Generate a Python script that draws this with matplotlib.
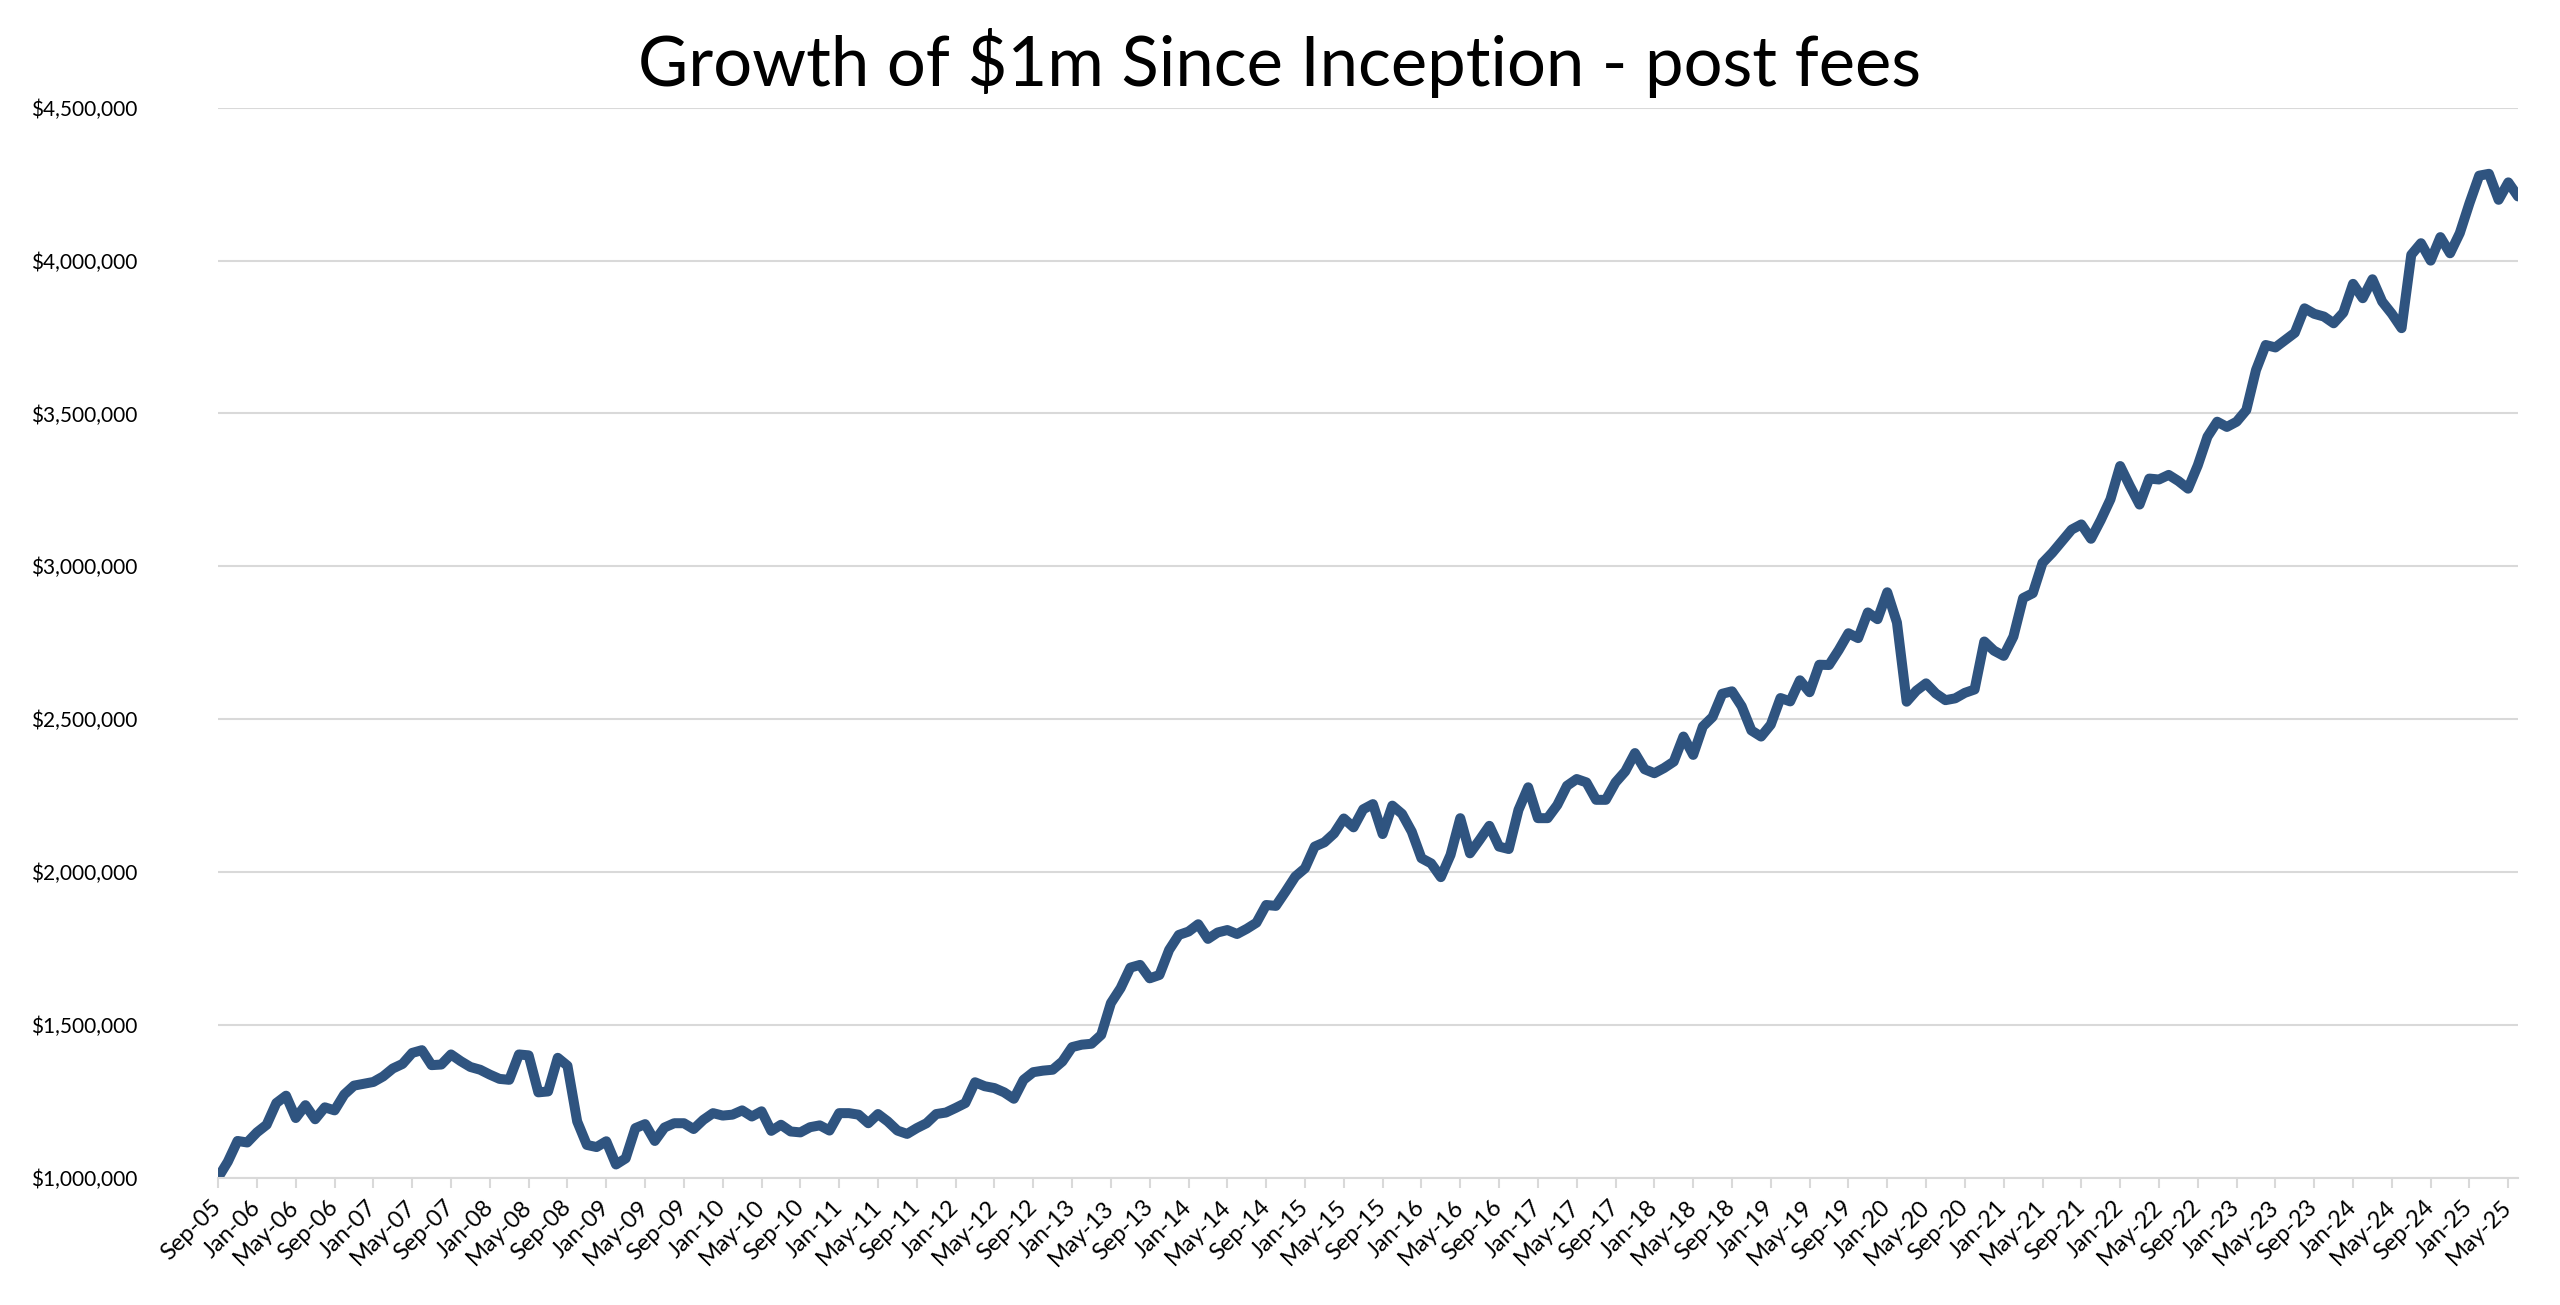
import matplotlib
matplotlib.use('Agg')
import matplotlib.pyplot as plt
import pandas as pd

plt.rcParams['font.family'] = ['Lato', 'DejaVu Sans']

# value of $1m invested, month end, in $ thousands (Sep-05 .. Jun-25)
valores = [
    1000, 1052, 1120, 1115, 1148, 1173, 1244, 1268, 1195, 1237, 1191, 1230,
    1220, 1272, 1301, 1307, 1313, 1331, 1357, 1372, 1408, 1417, 1368, 1370,
    1403, 1381, 1362, 1353, 1337, 1323, 1320, 1403, 1400, 1279, 1282, 1392,
    1366, 1184, 1107, 1100, 1119, 1043, 1063, 1162, 1175, 1120, 1164, 1178,
    1178, 1159, 1189, 1211, 1203, 1206, 1220, 1200, 1217, 1153, 1173, 1151,
    1148, 1165, 1171, 1154, 1211, 1211, 1206, 1178, 1208, 1184, 1154, 1143,
    1162, 1178, 1208, 1213, 1228, 1244, 1312, 1299, 1293, 1279, 1258, 1320,
    1345, 1350, 1353, 1380, 1427, 1435, 1438, 1467, 1571, 1620, 1687, 1696,
    1652, 1663, 1745, 1794, 1805, 1829, 1781, 1802, 1810, 1797, 1814, 1834,
    1892, 1889, 1936, 1985, 2012, 2083, 2097, 2126, 2175, 2146, 2205, 2222,
    2124, 2217, 2190, 2132, 2045, 2028, 1983, 2056, 2176, 2061, 2105, 2151,
    2083, 2075, 2203, 2277, 2176, 2176, 2219, 2282, 2304, 2293, 2236, 2236,
    2293, 2329, 2389, 2336, 2323, 2340, 2361, 2443, 2383, 2476, 2507, 2583,
    2591, 2542, 2463, 2443, 2482, 2569, 2558, 2627, 2588, 2678, 2677, 2726,
    2781, 2765, 2849, 2827, 2915, 2816, 2557, 2593, 2617, 2584, 2562, 2568,
    2586, 2597, 2754, 2724, 2707, 2770, 2896, 2912, 3011, 3044, 3082, 3120,
    3137, 3090, 3151, 3219, 3328, 3263, 3202, 3287, 3284, 3299, 3279, 3254,
    3330, 3424, 3473, 3456, 3473, 3511, 3642, 3724, 3716, 3740, 3764, 3844,
    3826, 3817, 3795, 3830, 3924, 3877, 3939, 3866, 3826, 3779, 4019, 4057,
    4000, 4077, 4024, 4090, 4188, 4278, 4284, 4199, 4256, 4210,
]
meses = pd.date_range('2005-09-30', periods=len(valores), freq='ME')
rotulos = [m.strftime('%b-%y') for m in meses]
yticks = [1000000, 1500000, 2000000, 2500000, 3000000, 3500000, 4000000, 4500000]

fig = plt.figure(figsize=(25.6, 13.05), dpi=100)
ax = fig.add_axes([0.0852, 0.0976, 0.8984, 0.8198])

x = list(range(len(valores)))
ax.plot(x, [v * 1000 for v in valores], color='#2F5480', lw=7.2,
        solid_joinstyle='round', solid_capstyle='round')

ax.set_xlim(0, len(valores) - 1)
ax.set_ylim(1000000, 4500000)
ax.set_yticks(yticks)
ax.set_yticklabels([f'${v:,.0f}' for v in yticks])
ax.set_xticks(x[::4])
ax.set_xticklabels(rotulos[::4], rotation=45, ha='right', va='center',
                   rotation_mode='anchor')

ax.grid(axis='y', color='#d9d9d9', lw=1.5)
ax.set_axisbelow(True)
for s in ['top', 'right', 'left']:
    ax.spines[s].set_visible(False)
ax.spines['bottom'].set_color('#d9d9d9')
ax.spines['bottom'].set_linewidth(1.5)
ax.tick_params(axis='y', length=0, pad=58, labelsize=15, labelcolor='black')
ax.tick_params(axis='x', length=7, width=1.5, color='#d9d9d9', pad=12,
               labelsize=17, labelcolor='black')

fig.text(0.5, 0.952, 'Growth of $1m Since Inception - post fees',
         ha='center', va='center', fontsize=49.5, color='black')

fig.savefig('out.png', dpi=100)
